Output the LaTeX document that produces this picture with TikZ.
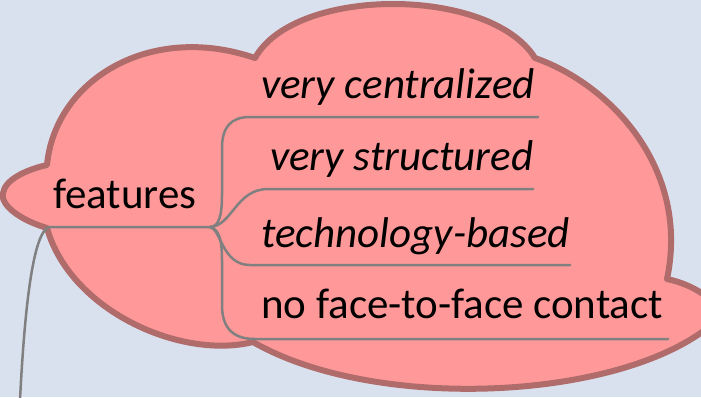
\documentclass[tikz,border=0pt]{standalone}
\usepackage{fontspec}
\setmainfont{Carlito}
\definecolor{bgc}{HTML}{DAE1EE}
\definecolor{cloudfill}{HTML}{FF9999}
\definecolor{cloudline}{HTML}{B06B6B}
\definecolor{branchc}{HTML}{808080}
\tikzset{
  lbl/.style={font=\fontsize{43}{50}\selectfont, anchor=base west, inner sep=0pt, text=black},
  cloudshape/.style={fill=cloudfill, draw=cloudline, line width=6pt, line join=round},
  branch/.style={draw=branchc, line width=2.5pt, line cap=round}
}
\begin{document}
\begin{tikzpicture}[x=1pt,y=-1pt]
\useasboundingbox (0,0) rectangle (701,397);
\fill[bgc] (0,0) rectangle (701,397);
\begin{scope}
\clip (0,0) rectangle (701,397);
\path[cloudshape]
  (47,228) .. controls (20,220) and (0,205) .. (3,193)
  .. controls (5,180) and (25,170) .. (47,165)
  .. controls (55,80) and (150,22) .. (255,58)
  .. controls (295,-14) and (490,-14) .. (535,58)
  .. controls (612,85) and (690,170) .. (667,279)
  .. controls (695,285) and (715,300) .. (722,315)
  .. controls (640,400) and (380,415) .. (253,342)
  .. controls (180,360) and (70,310) .. (47,228) -- cycle;
\end{scope}
% nodes
\node[lbl] (feat) at (53,208) {features};
\node[lbl] (i1) at (261,98) {\itshape very centralized};
\node[lbl] (i2) at (270,170) {\itshape very structured};
\node[lbl] (i3) at (261,247) {\itshape technology-based};
\node[lbl] (i4) at (261,318) {no face-to-face contact};
% connector points
\coordinate (root) at (20,400);
\coordinate (fs) at (50,227);
\coordinate (j) at (210,227);
\coordinate (l1s) at (250,117); \coordinate (l1e) at (538,117);
\coordinate (l2s) at (268,189); \coordinate (l2e) at (533,189);
\coordinate (l3s) at (250,265); \coordinate (l3e) at (570,265);
\coordinate (l4s) at (255,339); \coordinate (l4e) at (668,339);
% connectors
\draw[branch] (root) .. controls (25,300) and (34,229) .. (fs) -- (j);
\draw[branch] (j) .. controls (219,227) and (222,215) .. (222,195) -- (222,148)
  .. controls (222,127) and (231,117) .. (l1s) -- (l1e);
\draw[branch] (j) .. controls (232,226) and (236,189) .. (l2s) -- (l2e);
\draw[branch] (j) .. controls (221,229) and (222,265) .. (l3s) -- (l3e);
\draw[branch] (j) .. controls (219,229) and (222,240) .. (222,260) -- (222,305)
  .. controls (222,330) and (235,339) .. (l4s) -- (l4e);
\end{tikzpicture}
\end{document}
